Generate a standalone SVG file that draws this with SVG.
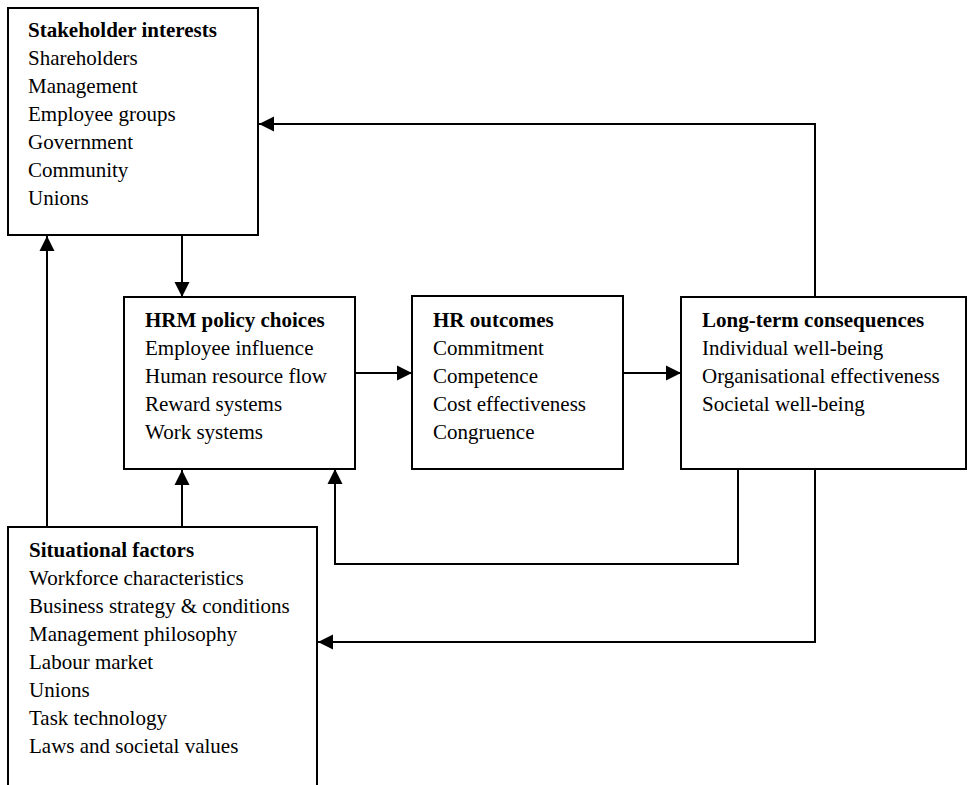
<svg xmlns="http://www.w3.org/2000/svg" width="969" height="785" viewBox="0 0 969 785">
  <style>
    .box { fill: #fff; stroke: #000; stroke-width: 2; }
    .wire { fill: none; stroke: #000; stroke-width: 2; }
    text { font-family: "Liberation Serif", "Times New Roman", serif; font-size: 21px; fill: #000; }
    .hd { font-weight: bold; }
  </style>
  <defs>
    <marker id="arrow" markerWidth="16" markerHeight="16" refX="15" refY="8" orient="auto" markerUnits="userSpaceOnUse">
      <path d="M0,0.5 L15,8 L0,15.5 Z" fill="#000"/>
    </marker>
  </defs>

  <g id="connectors">
    <!-- stakeholders down to policy choices -->
    <line class="wire" x1="182" y1="236" x2="182" y2="297" marker-end="url(#arrow)"/>
    <!-- policy choices to outcomes -->
    <line class="wire" x1="355" y1="373" x2="412" y2="373" marker-end="url(#arrow)"/>
    <!-- outcomes to consequences -->
    <line class="wire" x1="623" y1="373" x2="681" y2="373" marker-end="url(#arrow)"/>
    <!-- consequences back to stakeholders -->
    <polyline class="wire" points="815,297 815,124 259,124" marker-end="url(#arrow)"/>
    <!-- consequences back to policy choices -->
    <polyline class="wire" points="738,469 738,564 335,564 335,469" marker-end="url(#arrow)"/>
    <!-- consequences back to situational factors -->
    <polyline class="wire" points="815,469 815,642 318,642" marker-end="url(#arrow)"/>
    <!-- situational factors up to stakeholders -->
    <line class="wire" x1="47" y1="527" x2="47" y2="236" marker-end="url(#arrow)"/>
    <!-- situational factors up to policy choices -->
    <line class="wire" x1="182" y1="527" x2="182" y2="470" marker-end="url(#arrow)"/>
  </g>

  <g id="stakeholder-interests">
    <rect class="box" x="8" y="8" width="250" height="227"/>
    <text x="28" y="37" class="hd">Stakeholder interests</text>
    <text x="28" y="65">Shareholders</text>
    <text x="28" y="93">Management</text>
    <text x="28" y="121">Employee groups</text>
    <text x="28" y="149">Government</text>
    <text x="28" y="177">Community</text>
    <text x="28" y="205">Unions</text>
  </g>

  <g id="hrm-policy-choices">
    <rect class="box" x="124" y="297" width="231" height="172"/>
    <text x="145" y="327" class="hd">HRM policy choices</text>
    <text x="145" y="355">Employee influence</text>
    <text x="145" y="383">Human resource flow</text>
    <text x="145" y="411">Reward systems</text>
    <text x="145" y="439">Work systems</text>
  </g>

  <g id="hr-outcomes">
    <rect class="box" x="412" y="296" width="211" height="173"/>
    <text x="433" y="327" class="hd">HR outcomes</text>
    <text x="433" y="355">Commitment</text>
    <text x="433" y="383">Competence</text>
    <text x="433" y="411">Cost effectiveness</text>
    <text x="433" y="439">Congruence</text>
  </g>

  <g id="long-term-consequences">
    <rect class="box" x="681" y="297" width="285" height="172"/>
    <text x="702" y="327" class="hd">Long-term consequences</text>
    <text x="702" y="355">Individual well-being</text>
    <text x="702" y="383">Organisational effectiveness</text>
    <text x="702" y="411">Societal well-being</text>
  </g>

  <g id="situational-factors">
    <rect class="box" x="8" y="527" width="309" height="280"/>
    <text x="29" y="557" class="hd">Situational factors</text>
    <text x="29" y="585">Workforce characteristics</text>
    <text x="29" y="613">Business strategy &amp; conditions</text>
    <text x="29" y="641">Management philosophy</text>
    <text x="29" y="669">Labour market</text>
    <text x="29" y="697">Unions</text>
    <text x="29" y="725">Task technology</text>
    <text x="29" y="753">Laws and societal values</text>
  </g>
</svg>
